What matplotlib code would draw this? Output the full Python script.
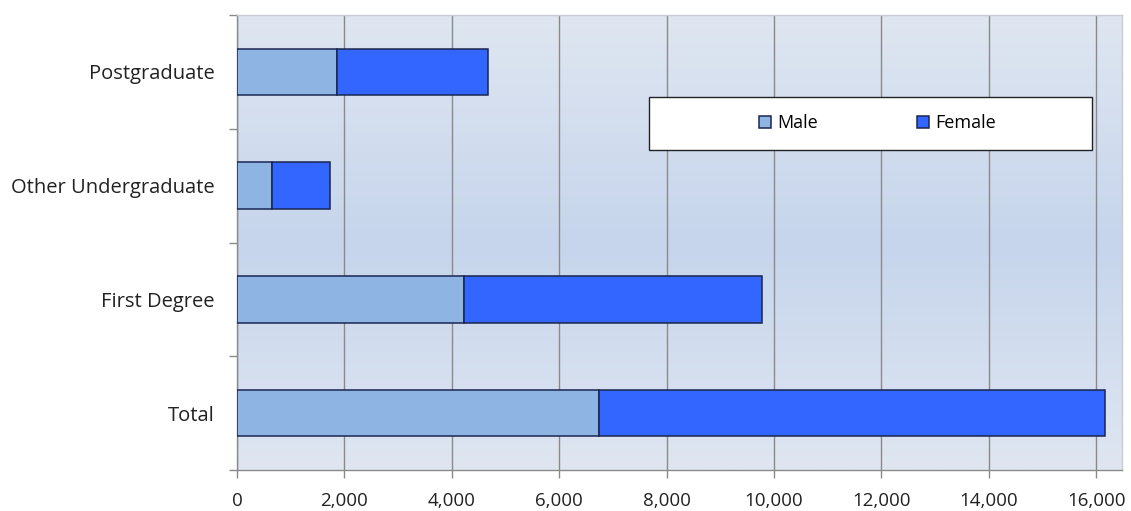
import numpy as np
import matplotlib
matplotlib.use("Agg")
import matplotlib.pyplot as plt
from matplotlib.colors import LinearSegmentedColormap
from matplotlib.ticker import FuncFormatter, FixedLocator
from matplotlib.patches import Rectangle

categories = ["Total", "First Degree", "Other Undergraduate", "Postgraduate"]
male = [6740, 4230, 650, 1860]
female = [9430, 5550, 1080, 2810]
series_names = ["Male", "Female"]
xticks = [0, 2000, 4000, 6000, 8000, 10000, 12000, 14000, 16000]

plt.rcParams['font.family'] = ['Open Sans', 'DejaVu Sans']

fig = plt.figure(figsize=(11.31, 5.11), dpi=100)
ax = fig.add_axes([237/1131, 41/511, (1122-237)/1131, 455/511])

xmax = 16480
ax.set_xlim(0, xmax)
ax.set_ylim(-0.5, len(categories) - 0.5)

# gradient background
cmap = LinearSegmentedColormap.from_list("bg", ["#dfe6f1", "#c6d5ec", "#dfe6f1"])
grad = np.linspace(0, 1, 256).reshape(-1, 1)
ax.imshow(grad, aspect="auto", cmap=cmap, extent=[0, xmax, -0.5, len(categories) - 0.5],
          zorder=0, origin="lower")

y = np.arange(len(categories))
h = 0.41
ax.barh(y, male, height=h, color="#8eb4e3", edgecolor="#1a2650", linewidth=1.1,
        label=series_names[0], zorder=3)
ax.barh(y, female, left=male, height=h, color="#3366ff", edgecolor="#1a2650", linewidth=1.1,
        label=series_names[1], zorder=3)

ax.set_xticks(xticks)
ax.xaxis.set_major_formatter(FuncFormatter(lambda v, p: f"{int(v):,}"))
ax.grid(axis="x", color="#8a8a8a", linewidth=1.0, zorder=1)
ax.set_axisbelow(True)

ax.set_yticks(y)
ax.set_yticklabels(categories)
ax.yaxis.set_minor_locator(FixedLocator(np.arange(-0.5, len(categories), 1.0)))
ax.tick_params(axis="y", which="major", length=0, pad=16, labelsize=14.5, labelcolor="#222222")
ax.tick_params(axis="y", which="minor", length=6, color="#8a8a8a", width=1.0)
ax.tick_params(axis="x", which="major", length=6, color="#8a8a8a", width=1.0,
               labelsize=13.5, labelcolor="#222222", pad=10)

for s in ["left", "bottom"]:
    ax.spines[s].set_color("#8a8a8a")
    ax.spines[s].set_linewidth(1.0)
for s in ["top", "right"]:
    ax.spines[s].set_color("#c8ccd2")
    ax.spines[s].set_linewidth(1.0)

# legend box
bx0, by0 = 649 / 1131, (511 - 150) / 511
bw, bh = (1092 - 649) / 1131, 53 / 511
fig.patches.append(Rectangle((bx0, by0), bw, bh, transform=fig.transFigure,
                             facecolor="white", edgecolor="#222222", linewidth=1.0, zorder=5))
leg = fig.legend(loc="center", bbox_to_anchor=(bx0 + bw / 2 + 0.006, by0 + bh / 2),
                 ncol=2, frameon=False, fontsize=13,
                 handlelength=0.65, handleheight=0.65, handletextpad=0.35,
                 columnspacing=5.5, borderpad=0)
leg.set_zorder(6)

fig.savefig("out.png", dpi=100)
